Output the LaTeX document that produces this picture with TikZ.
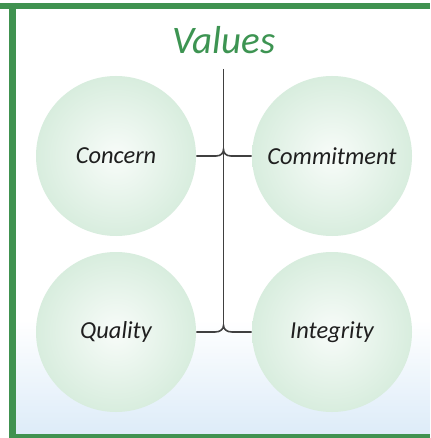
\documentclass[tikz,border=0pt]{standalone}
\usepackage{fontspec}
\setmainfont{Carlito}
\usepackage{tikz}
\usetikzlibrary{calc}
\definecolor{khunglacay}{RGB}{64,146,80}
\definecolor{chulacay}{RGB}{61,148,82}
\definecolor{nenlacay}{RGB}{216,237,222}
\definecolor{nentroi}{RGB}{220,235,248}
\definecolor{duongnoi}{RGB}{64,64,64}
\tikzset{giatri/.style={circle,minimum size=160*0.02cm,inner sep=0pt,
		shading=radial,inner color=white!82!nenlacay,outer color=nenlacay,
		font=\itshape\fontsize{13.9}{16}\selectfont,text=black!88},
	noi/.style={duongnoi,line width=0.9pt}}
\begin{document}
\begin{tikzpicture}[x=0.02cm,y=-0.02cm]
			\useasboundingbox (0,0) rectangle (430,438);
			\clip (0,0) rectangle (430,438);
			% nen
			\fill[white] (0,0) rectangle (430,438);
			\shade[top color=white,bottom color=nentroi] (16,320) rectangle (430,438);
			% khung
			\draw[khunglacay,line width=6*0.02cm] (0,6) -- (430,6);
			\draw[khunglacay,line width=7*0.02cm] (12.5,3) -- (12.5,438);
			\draw[khunglacay,line width=6*0.02cm] (9,437) -- (430,437);
			% tieu de
			\node[chulacay,font=\itshape\fontsize{22.2}{26}\selectfont] (tieude) at (224,40) {Values};
			% bon vong tron
			\node[giatri] (quantam) at (116,156) {Concern};
			\node[giatri] (camket) at (332,156) {Commitment};
			\node[giatri] (chatluong) at (116,332) {Quality};
			\node[giatri] (chinhtruc) at (332,332) {Integrity};
			% duong noi
			\coordinate (dinh) at (223.5,69);
			\coordinate (giua) at (223.5,149.5);
			\coordinate (day) at (223.5,325.5);
			\draw[noi] (dinh) -- (day);
			\draw[noi] (quantam.east) -- (216,156) .. controls (221,156) and (223.5,153) .. (giua)
				.. controls (223.5,153) and (226,156) .. (231,156) -- (camket.west);
			\draw[noi] (chatluong.east) -- (215,332) .. controls (220.5,332) and (223.5,329) .. (day)
				.. controls (223.5,329) and (226.5,332) .. (232,332) -- (chinhtruc.west);
		\end{tikzpicture}
\end{document}
